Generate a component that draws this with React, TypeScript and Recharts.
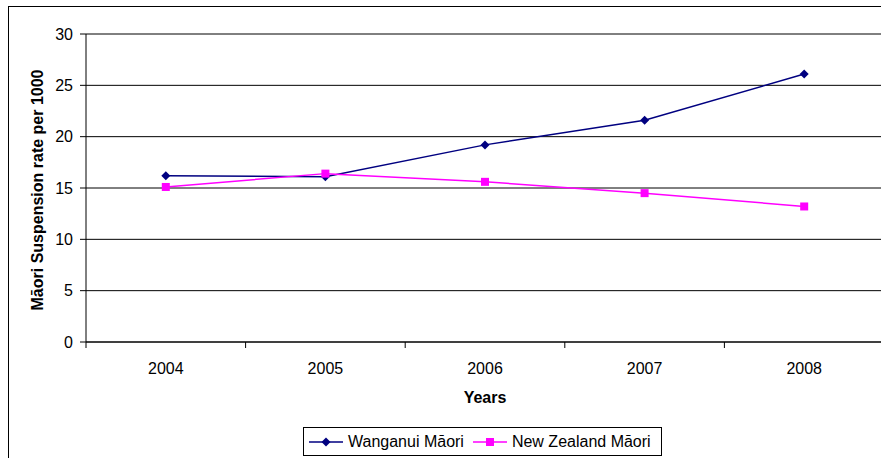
import { LineChart, Line, XAxis, YAxis, CartesianGrid } from 'recharts';

const years = ['2004', '2005', '2006', '2007', '2008'];
const wanganui = [16.2, 16.1, 19.2, 21.6, 26.1];
const newZealand = [15.1, 16.4, 15.6, 14.5, 13.2];
const yTicks = [0, 5, 10, 15, 20, 25, 30];

const SERIES = [
  { key: 'wanganui', name: 'Wanganui Māori', color: '#000080', shape: 'diamond' },
  { key: 'newZealand', name: 'New Zealand Māori', color: '#FF00FF', shape: 'square' },
];

const data = years.map((year, i) => ({ year, wanganui: wanganui[i], newZealand: newZealand[i] }));

const FONT = '"Liberation Sans", Arial, sans-serif';

function Diamond({ cx, cy, fill }: { cx?: number; cy?: number; fill: string }) {
  if (cx == null || cy == null) return null;
  const r = 4.5;
  return <path d={`M${cx},${cy - r}L${cx + r},${cy}L${cx},${cy + r}L${cx - r},${cy}Z`} fill={fill} />;
}

function Square({ cx, cy, fill }: { cx?: number; cy?: number; fill: string }) {
  if (cx == null || cy == null) return null;
  const r = 4;
  return <rect x={cx - r} y={cy - r} width={r * 2} height={r * 2} fill={fill} />;
}

// year label at the band centre, tick marks on the band edges
function YearTick(props: any) {
  const { x, y, payload, index, width, visibleTicksCount } = props;
  const off = payload.offset || width / (2 * (visibleTicksCount || years.length));
  return (
    <g>
      <line x1={x - off} y1={y - 8} x2={x - off} y2={y - 2} stroke="#000" />
      {index === years.length - 1 && <line x1={x + off} y1={y - 8} x2={x + off} y2={y - 2} stroke="#000" />}
      <text x={x} y={y} dy={24} textAnchor="middle" fontSize={16} fill="#000" fontFamily={FONT}>
        {payload.value}
      </text>
    </g>
  );
}

function LegendMark({ color, shape }: { color: string; shape: string }) {
  return (
    <svg width={34} height={10} style={{ display: 'block' }}>
      <line x1={0} y1={5} x2={34} y2={5} stroke={color} strokeWidth={1.5} />
      {shape === 'diamond' ? <Diamond cx={17} cy={5} fill={color} /> : <Square cx={17} cy={5} fill={color} />}
    </svg>
  );
}

export default function App() {
  return (
    <div style={{ position: 'absolute', left: 0, top: 0, width: 881, height: 458, overflow: 'hidden', background: '#fff', fontFamily: FONT }}>
      <div style={{ position: 'absolute', left: 8, top: 6, width: 900, height: 500, border: '1px solid #000', boxSizing: 'border-box' }} />
      <div style={{ position: 'absolute', left: 0, top: 0 }}>
        <LineChart width={890} height={458} data={data} margin={{ top: 34, right: 6, left: 0, bottom: 0 }}>
          <CartesianGrid vertical={false} stroke="#000" />
          <XAxis
            dataKey="year"
            scale="band"
            height={116}
            axisLine={{ stroke: '#000' }}
            tickLine={false}
            tickSize={6}
            tickMargin={2}
            tick={<YearTick />}
            label={{ value: 'Years', position: 'insideTop', offset: 50, fontSize: 16, fontWeight: 'bold', fill: '#000', fontFamily: FONT }}
          />
          <YAxis
            width={86}
            domain={[0, 30]}
            ticks={yTicks}
            interval={0}
            axisLine={{ stroke: '#000' }}
            tickLine={{ stroke: '#000' }}
            tickSize={6}
            tickMargin={7}
            tick={{ fontSize: 16, fill: '#000', fontFamily: FONT }}
            label={{
              content: (p: any) => {
                const vb = p.viewBox || { x: 0, y: 34, width: 86, height: 308 };
                const cx = vb.x + vb.width / 2 - 6;
                const cy = vb.y + vb.height / 2 + 2;
                return (
                  <text x={cx} y={cy} transform={`rotate(-90 ${cx} ${cy})`} textAnchor="middle" dominantBaseline="central" fontSize={16} fontWeight="bold" fill="#000" fontFamily={FONT}>
                    Māori Suspension rate per 1000
                  </text>
                );
              },
            }}
          />
          <Line
            dataKey="wanganui"
            name={SERIES[0].name}
            stroke={SERIES[0].color}
            strokeWidth={1.5}
            dot={(p: any) => <Diamond key={p.index} cx={p.cx} cy={p.cy} fill={SERIES[0].color} />}
            activeDot={false}
            isAnimationActive={false}
          />
          <Line
            dataKey="newZealand"
            name={SERIES[1].name}
            stroke={SERIES[1].color}
            strokeWidth={1.5}
            dot={(p: any) => <Square key={p.index} cx={p.cx} cy={p.cy} fill={SERIES[1].color} />}
            activeDot={false}
            isAnimationActive={false}
          />
        </LineChart>
      </div>
      <div
        style={{
          position: 'absolute', left: 303, top: 427, width: 359, height: 29, border: '1px solid #000', boxSizing: 'border-box',
          display: 'flex', alignItems: 'center', paddingLeft: 5, fontSize: 16, color: '#000', background: '#fff',
        }}
      >
        {SERIES.map((s, i) => (
          <div key={s.key} style={{ display: 'flex', alignItems: 'center', marginLeft: i === 0 ? 0 : 9 }}>
            <LegendMark color={s.color} shape={s.shape} />
            <span style={{ marginLeft: 5, whiteSpace: 'nowrap' }}>{s.name}</span>
          </div>
        ))}
      </div>
    </div>
  );
}
